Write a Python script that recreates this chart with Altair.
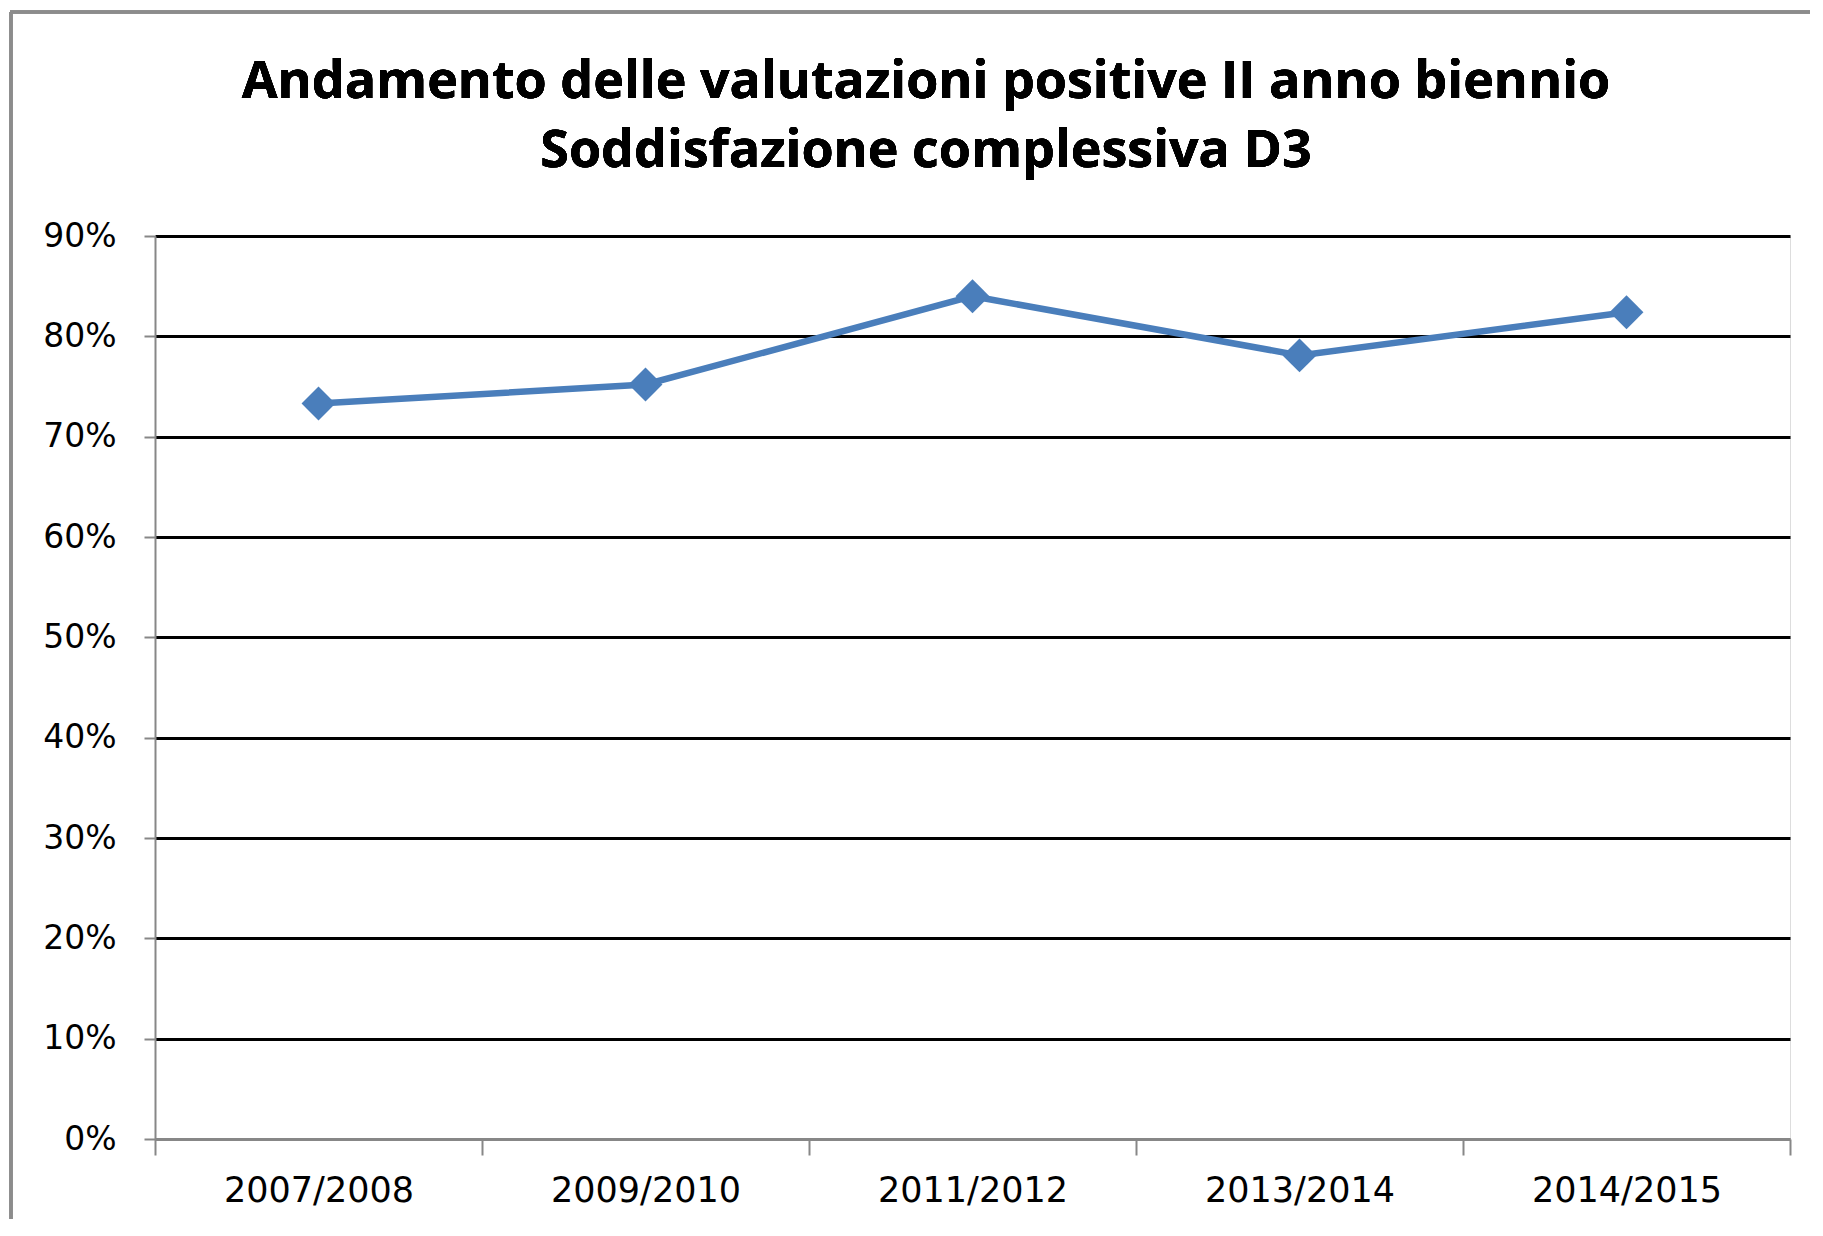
import altair as alt
import pandas as pd

years = ["2007/2008", "2009/2010", "2011/2012", "2013/2014", "2014/2015"]
values = [0.733, 0.752, 0.840, 0.781, 0.824]
y_ticks = [0, 0.1, 0.2, 0.3, 0.4, 0.5, 0.6, 0.7, 0.8, 0.9]
title_line1 = "Andamento delle valutazioni positive II anno biennio"
title_line2 = "Soddisfazione complessiva D3"

df = pd.DataFrame({"anno": years, "valore": values})

W, H = 1635, 903
GRAY = "#878787"
BLUE = "#4a7ebb"

x_enc = alt.X("anno:N", sort=years, title=None,
              scale=alt.Scale(paddingInner=0, paddingOuter=0),
              axis=alt.Axis(labelAngle=0, labelFont="DejaVu Sans", labelFontSize=35,
                            labelColor="black", labelPadding=18, labelLimit=0,
                            tickBand="extent",
                            tickSize=16, tickColor=GRAY, tickWidth=2,
                            domainColor=GRAY, domainWidth=3, grid=False))
y_enc = alt.Y("valore:Q", title=None,
              scale=alt.Scale(domain=[0, 0.9], nice=False),
              axis=alt.Axis(values=y_ticks, format=".0%", labelFont="DejaVu Sans",
                            labelFontSize=33, labelColor="black", labelPadding=28,
                            labelLimit=0,
                            tickSize=11, tickColor=GRAY, tickWidth=2,
                            domainColor=GRAY, domainWidth=2,
                            gridColor=alt.condition("datum.value === 0",
                                                    alt.value(GRAY), alt.value("black")),
                            gridWidth=2.8))

base = alt.Chart(df)
line = base.mark_line(color=BLUE, strokeWidth=6.5).encode(x=x_enc, y=y_enc)
pts = base.mark_point(shape="diamond", filled=True, color=BLUE, size=1150,
                      opacity=1).encode(x=x_enc, y=y_enc)

frame_left = alt.Chart(df).mark_rule(color="#8c8c8c", strokeWidth=3).encode(
    x=alt.value(-144), y=alt.value(-224), y2=alt.value(H + 80))
frame_top = alt.Chart(df).mark_rule(color="#8c8c8c", strokeWidth=3).encode(
    x=alt.value(-145), x2=alt.value(W + 20), y=alt.value(-224))

t1 = alt.Chart(df).mark_text(font="Open Sans", fontSize=52, fontWeight="bold", color="black",
                             align="center", baseline="alphabetic").encode(
    x=alt.value(771), y=alt.value(-138), text=alt.value(title_line1))
t2 = alt.Chart(df).mark_text(font="Open Sans", fontSize=52, fontWeight="bold", color="black",
                             align="center", baseline="alphabetic").encode(
    x=alt.value(771), y=alt.value(-69), text=alt.value(title_line2))

chart = alt.layer(frame_left, frame_top, t1, t2, line, pts).properties(
    width=W, height=H,
    autosize=alt.AutoSizeParams(type="none"),
    padding={"left": 147, "top": 228, "right": 20, "bottom": 80},
).configure_view(stroke=None).configure(background="white")

chart.save("out.html", embed_options={"renderer": "svg", "actions": False})
